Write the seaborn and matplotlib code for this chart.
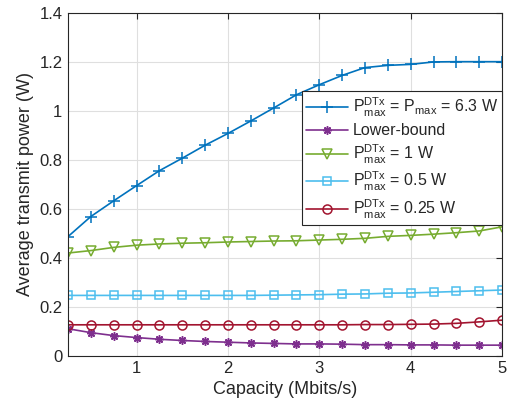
import numpy as np
import pandas as pd
import matplotlib
matplotlib.use("Agg")
import matplotlib.pyplot as plt
import seaborn as sns

# capacity values (Mbits/s)
capacity = [0.25, 0.5, 0.75, 1.0, 1.25, 1.5, 1.75, 2.0, 2.25, 2.5,
            2.75, 3.0, 3.25, 3.5, 3.75, 4.0, 4.25, 4.5, 4.75, 5.0]

# average transmit power (W) per scheme
p_full = [0.487, 0.569, 0.633, 0.695, 0.756, 0.807, 0.860, 0.908, 0.959, 1.012,
          1.066, 1.107, 1.145, 1.177, 1.186, 1.190, 1.200, 1.201, 1.201, 1.201]
p_lower = [0.111, 0.095, 0.083, 0.075, 0.068, 0.063, 0.059, 0.056, 0.053, 0.051,
           0.049, 0.049, 0.048, 0.046, 0.046, 0.045, 0.045, 0.044, 0.044, 0.044]
p_1w = [0.420, 0.430, 0.443, 0.452, 0.457, 0.460, 0.462, 0.465, 0.467, 0.469,
        0.470, 0.473, 0.476, 0.480, 0.488, 0.492, 0.497, 0.503, 0.510, 0.527]
p_05w = [0.247, 0.247, 0.247, 0.247, 0.247, 0.247, 0.247, 0.247, 0.247, 0.248,
         0.249, 0.250, 0.252, 0.253, 0.256, 0.257, 0.260, 0.263, 0.266, 0.269]
p_025w = [0.127, 0.127, 0.127, 0.127, 0.127, 0.127, 0.127, 0.127, 0.127, 0.127,
          0.127, 0.127, 0.127, 0.128, 0.128, 0.129, 0.130, 0.133, 0.139, 0.146]

labels = [r'$\mathrm{P}^{\mathrm{DTx}}_{\mathrm{max}}$ = $\mathrm{P}_{\mathrm{max}}$ = 6.3 W',
          'Lower-bound',
          r'$\mathrm{P}^{\mathrm{DTx}}_{\mathrm{max}}$ = 1 W',
          r'$\mathrm{P}^{\mathrm{DTx}}_{\mathrm{max}}$ = 0.5 W',
          r'$\mathrm{P}^{\mathrm{DTx}}_{\mathrm{max}}$ = 0.25 W']
series = [p_full, p_lower, p_1w, p_05w, p_025w]
colors = ['#0072BD', '#7E2F8E', '#77AC30', '#4DBEEE', '#A2142F']
markers = ['+', (8, 2, 0), 'v', 's', 'o']
msizes = [8, 6, 6.5, 6, 6.5]

sns.set_style("white")
plt.rcParams['font.family'] = ['Liberation Sans', 'DejaVu Sans']
plt.rcParams['mathtext.fontset'] = 'custom'
plt.rcParams['mathtext.rm'] = 'Liberation Sans'
plt.rcParams['mathtext.it'] = 'Liberation Sans:italic'

fig = plt.figure(figsize=(5.15, 4.04), dpi=100)
ax = fig.add_axes([0.132, 0.119, 0.843, 0.849])

for vals, lab, col, mk, ms in zip(series, labels, colors, markers, msizes):
    df = pd.DataFrame({'capacity': capacity, 'power': vals})
    sns.lineplot(data=df, x='capacity', y='power', ax=ax, color=col, label=lab,
                 marker=mk, markersize=ms, markerfacecolor='none',
                 markeredgecolor=col, markeredgewidth=1.1, linewidth=1.2)

ax.set_xlim(0.25, 5)
ax.set_ylim(0, 1.4)
ax.set_xticks([1, 2, 3, 4, 5])
ax.set_yticks([0, 0.2, 0.4, 0.6, 0.8, 1.0, 1.2, 1.4])
ax.set_yticklabels(['0', '0.2', '0.4', '0.6', '0.8', '1', '1.2', '1.4'])
ax.grid(True, color='#dfdfdf', linewidth=0.8)
ax.tick_params(direction='in', length=4, width=0.8, top=True, right=True,
               labelsize=12, colors='#262626', pad=4)
for s in ax.spines.values():
    s.set_color('#262626')
    s.set_linewidth(0.8)
ax.set_xlabel('Capacity (Mbits/s)', fontsize=13, color='#262626', labelpad=3.5)
ax.set_ylabel('Average transmit power (W)', fontsize=13, color='#262626', labelpad=4)

leg = ax.legend(loc='upper right', bbox_to_anchor=(0.999, 0.771), fontsize=11.5,
                frameon=True, fancybox=False, framealpha=1, edgecolor='#262626',
                handlelength=2.6, handletextpad=0.3, labelspacing=0.28,
                borderpad=0.25, borderaxespad=0)
leg.get_frame().set_linewidth(0.8)

fig.savefig('out.png', dpi=100)
